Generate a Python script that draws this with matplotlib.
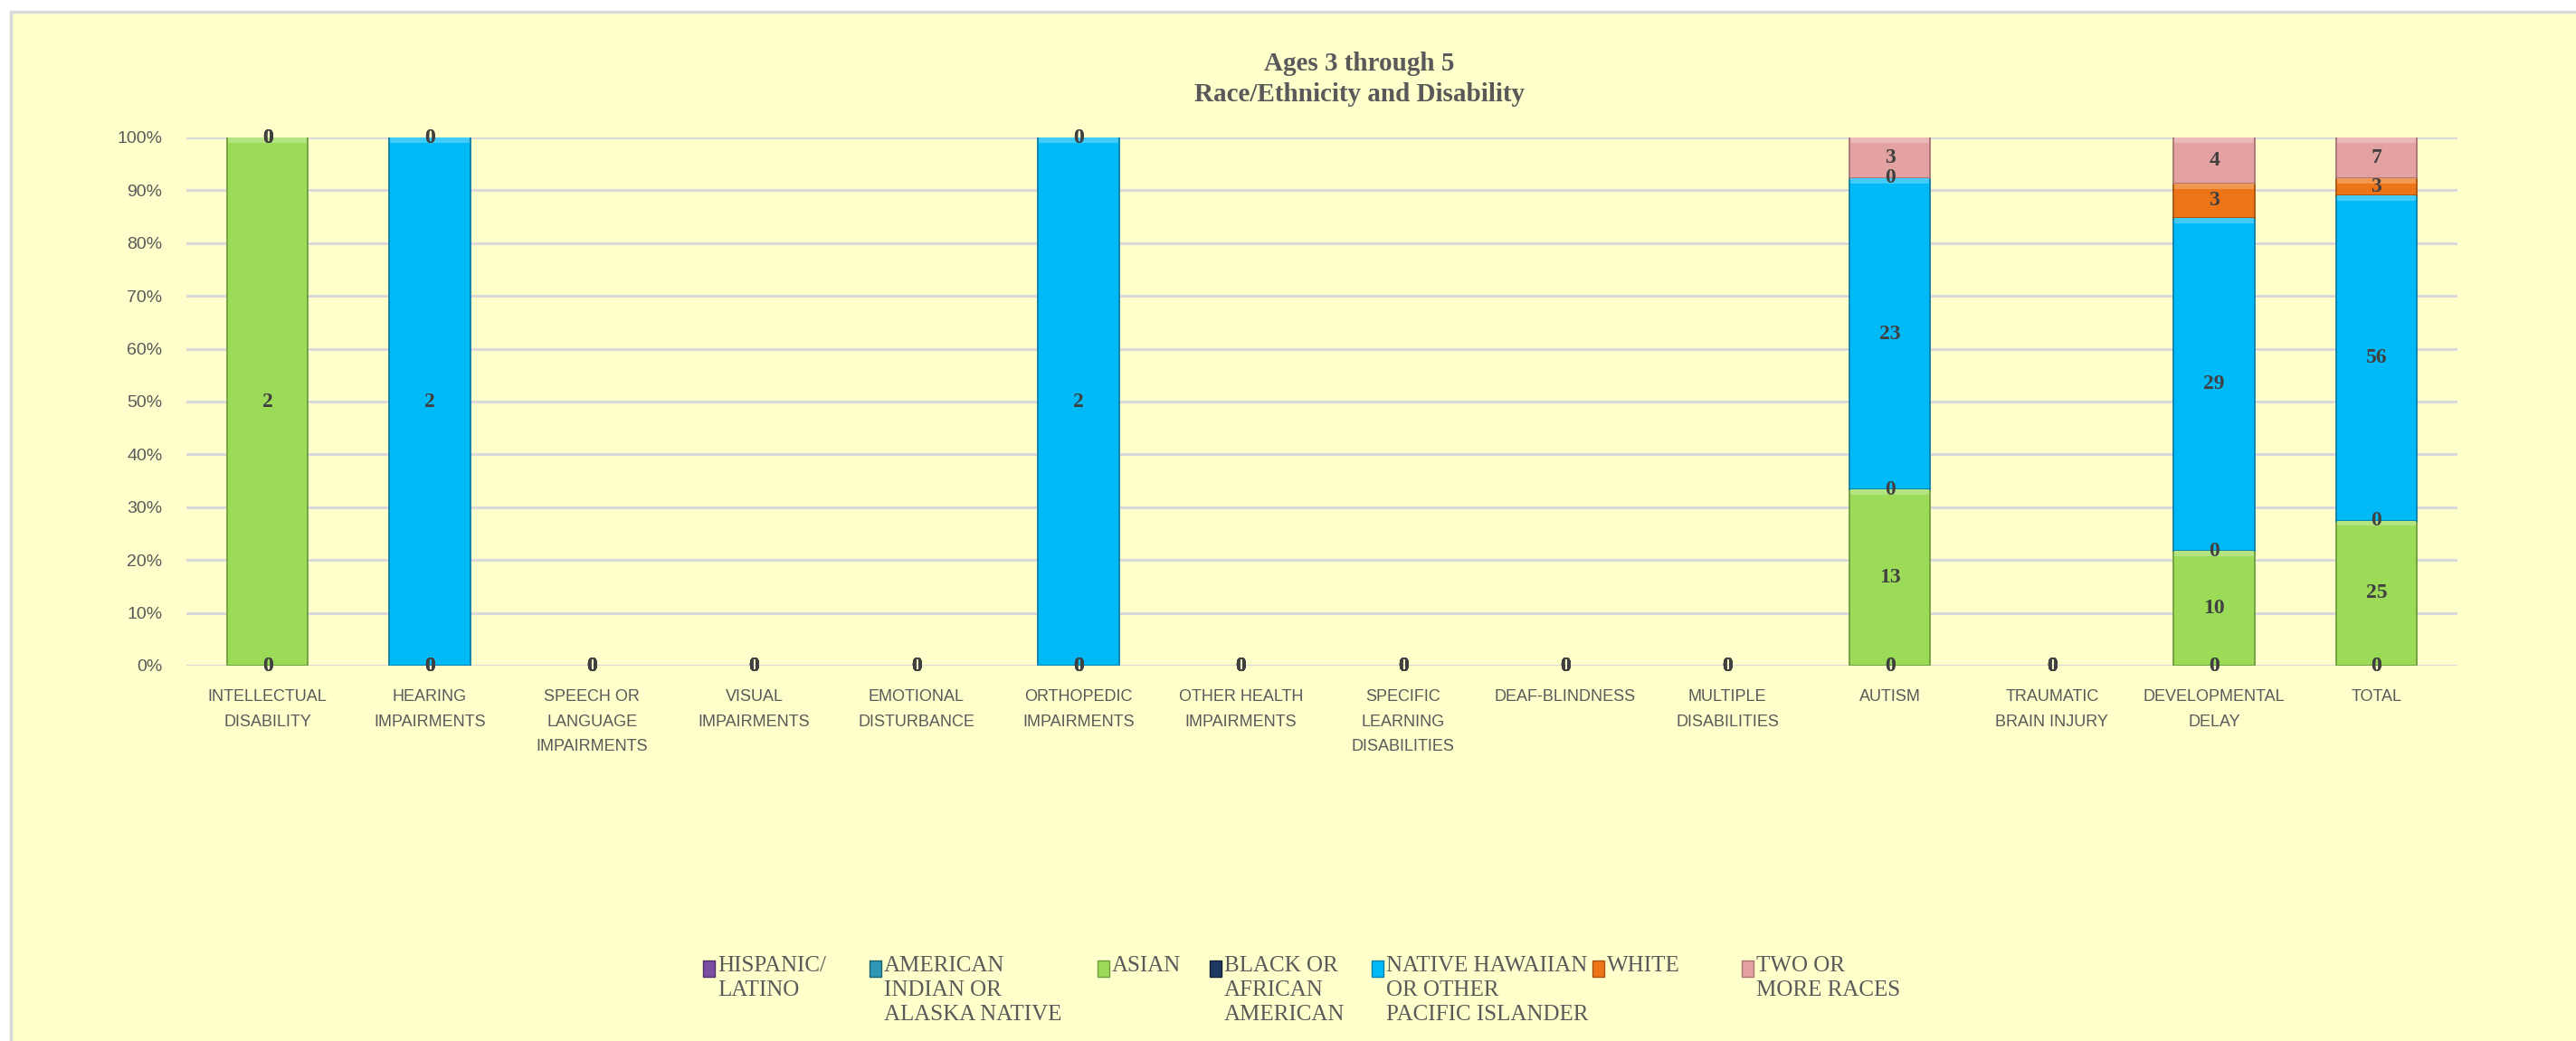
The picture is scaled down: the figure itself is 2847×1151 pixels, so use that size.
import numpy as np
import matplotlib
matplotlib.use("Agg")
import matplotlib.pyplot as plt
from matplotlib import font_manager as fm
from matplotlib.colors import to_rgb
from matplotlib.patches import Rectangle

categories = [
    "INTELLECTUAL\nDISABILITY", "HEARING\nIMPAIRMENTS", "SPEECH OR\nLANGUAGE\nIMPAIRMENTS",
    "VISUAL\nIMPAIRMENTS", "EMOTIONAL\nDISTURBANCE", "ORTHOPEDIC\nIMPAIRMENTS",
    "OTHER HEALTH\nIMPAIRMENTS", "SPECIFIC\nLEARNING\nDISABILITIES", "DEAF-BLINDNESS",
    "MULTIPLE\nDISABILITIES", "AUTISM", "TRAUMATIC\nBRAIN INJURY", "DEVELOPMENTAL\nDELAY", "TOTAL",
]
hispanic = [0, 0, 0, 0, 0, 0, 0, 0, 0, 0, 0, 0, 0, 0]
amer_indian = [0, 0, 0, 0, 0, 0, 0, 0, 0, 0, 0, 0, 0, 0]
asian = [2, 0, 0, 0, 0, 0, 0, 0, 0, 0, 13, 0, 10, 25]
black = [0, 0, 0, 0, 0, 0, 0, 0, 0, 0, 0, 0, 0, 0]
pacific = [0, 2, 0, 0, 0, 2, 0, 0, 0, 0, 23, 0, 29, 56]
white = [0, 0, 0, 0, 0, 0, 0, 0, 0, 0, 0, 0, 3, 3]
two_more = [0, 0, 0, 0, 0, 0, 0, 0, 0, 0, 3, 0, 4, 7]

series_names = [
    "HISPANIC/\nLATINO", "AMERICAN\nINDIAN OR\nALASKA NATIVE", "ASIAN",
    "BLACK OR\nAFRICAN\nAMERICAN", "NATIVE HAWAIIAN\nOR OTHER\nPACIFIC ISLANDER",
    "WHITE", "TWO OR\nMORE RACES",
]
series = [hispanic, amer_indian, asian, black, pacific, white, two_more]
colors = ["#7A4EA3", "#2F97B5", "#9BDB58", "#203864", "#00BAF7", "#EE7517", "#E3A1A1"]
edges = ["#4E2E6E", "#1E6275", "#6E9E3C", "#121F38", "#0A7FA8", "#A9520F", "#A87474"]

avail = {f.name for f in fm.fontManager.ttflist}
if "Liberation Sans Narrow" in avail:
    SANS, SANS_SIZE = "Liberation Sans Narrow", 15
else:
    SANS, SANS_SIZE = "Liberation Sans", 13
SERIF = "Liberation Serif"
TXT = "#595959"


def lighten(c, k=0.25):
    r, g, b = to_rgb(c)
    return (r + (1 - r) * k, g + (1 - g) * k, b + (1 - b) * k)


W, H = 2847, 1151
fig = plt.figure(figsize=(W / 100, H / 100), dpi=100)
fig.patch.set_facecolor("white")
fig.add_artist(Rectangle((12 / W, -0.02), 1.0, 1 - 13 / H + 0.02, transform=fig.transFigure,
                         facecolor="#FFFFCC", edgecolor="#D9D9D9", linewidth=2.5, zorder=0))

ax = fig.add_axes([206 / W, 1 - 736 / H, (2716 - 206) / W, (736 - 152) / H])
ax.set_facecolor("none")

data = np.array(series, dtype=float)
totals = data.sum(axis=0)
pct = np.divide(data, totals, out=np.zeros_like(data), where=totals > 0)
x = np.arange(len(categories))

bottom = np.zeros(len(categories))
for vals, share, col, ec in zip(series, pct, colors, edges):
    lw = np.where(share > 0, 1.3, 0.0)
    ax.bar(x, share, bottom=bottom, width=0.5, color=col, edgecolor=ec,
           linewidth=lw, zorder=3)
    # soft bevel highlight along the top of each segment
    band = np.minimum(share, 0.01)
    ax.bar(x, band, bottom=bottom + share - band, width=0.5 - 0.012, color=lighten(col),
           linewidth=0, zorder=4)
    for xi, b, h, v in zip(x, bottom, share, vals):
        ax.text(xi, b + h / 2, f"{v}", ha="center", va="center", fontsize=17,
                fontweight="bold", family=SERIF, color="#404040", zorder=5)
    bottom = bottom + share

ax.set_xlim(-0.5, len(categories) - 0.5)
ax.set_ylim(0, 1)
ticks = np.linspace(0, 1, 11)
ax.set_yticks(ticks)
ax.set_yticklabels([f"{int(round(t * 100))}%" for t in ticks])
ax.grid(axis="y", color="#D9D9D9", linewidth=2.2, zorder=0)
ax.set_axisbelow(True)
for s in ax.spines.values():
    s.set_visible(False)
ax.tick_params(axis="both", length=0, colors=TXT, labelsize=SANS_SIZE)
ax.tick_params(axis="y", pad=19, labelsize=SANS_SIZE + 1)
ax.tick_params(axis="x", pad=19)
ax.set_xticks(x)
ax.set_xticklabels(categories, linespacing=1.8)
for lab in ax.get_xticklabels() + ax.get_yticklabels():
    lab.set_family(SANS)

fig.text(1502 / W, 1 - 70 / H, "Ages 3 through 5", ha="center", va="center",
         fontsize=21, fontweight="bold", family=SERIF, color=TXT)
fig.text(1502 / W, 1 - 104 / H, "Race/Ethnicity and Disability", ha="center", va="center",
         fontsize=21, fontweight="bold", family=SERIF, color=TXT)

# legend, laid out like the Excel one: marker on the first line, text wrapped below
leg_x = [777, 961, 1213, 1337, 1516, 1760, 1925]
for lx, name, col, ec in zip(leg_x, series_names, colors, edges):
    fig.add_artist(Rectangle((lx / W, 1 - 1080 / H), 13 / W, 18 / H, transform=fig.transFigure,
                             facecolor=col, edgecolor=ec, linewidth=1))
    fig.text((lx + 16) / W, 1 - 1057 / H, name, ha="left", va="top", fontsize=18,
             family=SERIF, color=TXT, linespacing=1.3)

fig.savefig("out.png", dpi=100, facecolor=fig.get_facecolor())
plt.close(fig)
